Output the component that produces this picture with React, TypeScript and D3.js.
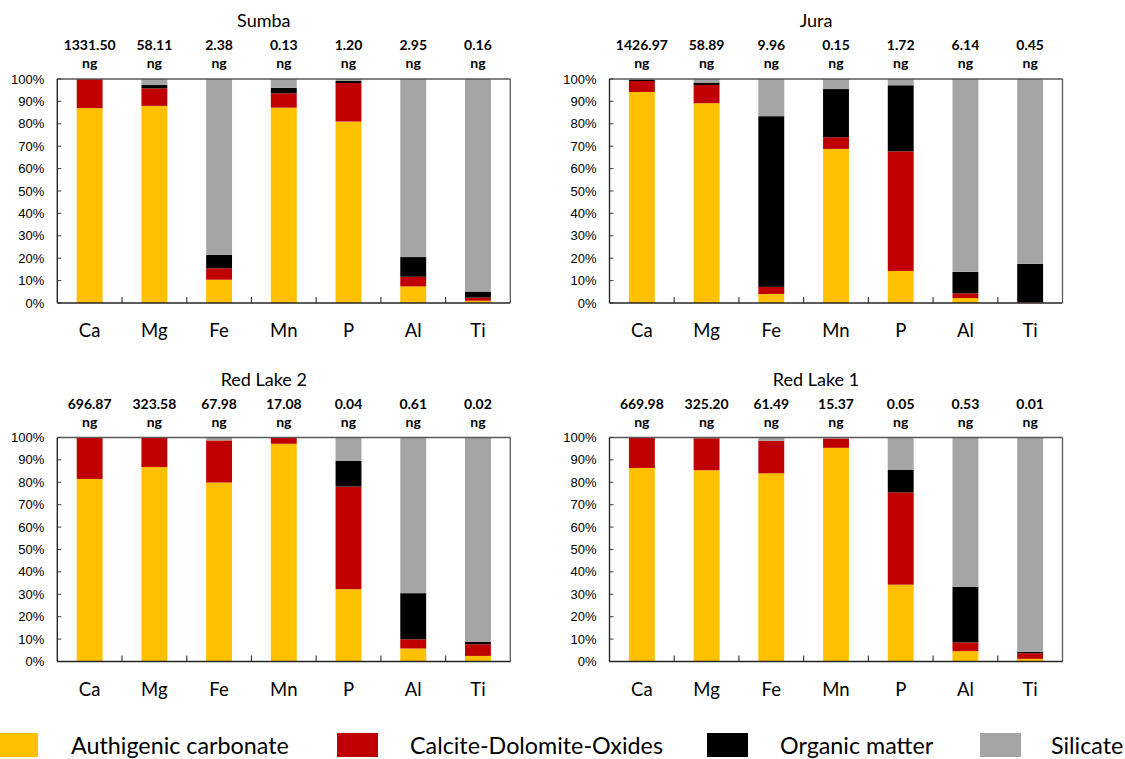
import React from "react";
import * as d3 from "d3";

const elements = ["Ca", "Mg", "Fe", "Mn", "P", "Al", "Ti"];
const fractions = ["Authigenic carbonate", "Calcite-Dolomite-Oxides", "Organic matter", "Silicate"];
const fractionColors = ["#FFC000", "#C00000", "#000000", "#A5A5A5"];
const yTicks = [0, 10, 20, 30, 40, 50, 60, 70, 80, 90, 100];

const sumbaMass = ["1331.50", "58.11", "2.38", "0.13", "1.20", "2.95", "0.16"];
const sumbaAuth = [87, 88, 10.4, 87.2, 81, 7.4, 1.0];
const sumbaCalc = [13, 7.8, 5.1, 6.4, 17.2, 4.3, 1.4];
const sumbaOrg = [0, 1.5, 6.0, 2.4, 0.9, 8.8, 2.7];
const sumbaSil = [0, 2.7, 78.5, 4.0, 0.9, 79.5, 94.9];

const juraMass = ["1426.97", "58.89", "9.96", "0.15", "1.72", "6.14", "0.45"];
const juraAuth = [94.2, 89.2, 4.0, 68.8, 14.3, 2.2, 0.1];
const juraCalc = [4.9, 8.1, 3.2, 5.2, 53.4, 2.1, 0.3];
const juraOrg = [0.6, 1.1, 76.2, 21.5, 29.5, 9.6, 17.1];
const juraSil = [0.3, 1.6, 16.6, 4.5, 2.8, 86.1, 82.5];

const rl2Mass = ["696.87", "323.58", "67.98", "17.08", "0.04", "0.61", "0.02"];
const rl2Auth = [81.5, 86.8, 79.9, 97.2, 32.3, 5.8, 2.5];
const rl2Calc = [18.5, 13.2, 18.8, 2.8, 45.8, 4.1, 5.2];
const rl2Org = [0, 0, 0, 0, 11.5, 20.6, 1.0];
const rl2Sil = [0, 0, 1.3, 0, 10.4, 69.5, 91.3];

const rl1Mass = ["669.98", "325.20", "61.49", "15.37", "0.05", "0.53", "0.01"];
const rl1Auth = [86.4, 85.4, 84.0, 95.4, 34.3, 4.6, 1.2];
const rl1Calc = [13.6, 14.3, 14.5, 4.2, 41.2, 3.9, 2.5];
const rl1Org = [0, 0, 0, 0, 10.0, 24.9, 0.6];
const rl1Sil = [0, 0.3, 1.5, 0.4, 14.5, 66.6, 95.7];

const panels = [
  { name: "Sumba", mass: sumbaMass, series: [sumbaAuth, sumbaCalc, sumbaOrg, sumbaSil], left: 57.3, top: 79 },
  { name: "Jura", mass: juraMass, series: [juraAuth, juraCalc, juraOrg, juraSil], left: 609.5, top: 79 },
  { name: "Red Lake 2", mass: rl2Mass, series: [rl2Auth, rl2Calc, rl2Org, rl2Sil], left: 57.3, top: 437.5 },
  { name: "Red Lake 1", mass: rl1Mass, series: [rl1Auth, rl1Calc, rl1Org, rl1Sil], left: 609.5, top: 437.5 },
];

const PW = 453;
const PH = 224;
const LABEL_FONT = "Lato, 'Open Sans', sans-serif";
const AXIS_FONT = "'Liberation Sans', Arial, sans-serif";

function Panel({ p }: { p: any }) {
  const x = d3.scaleBand<string>().domain(elements).range([0, PW]).paddingInner(0.6).paddingOuter(0.3);
  const band = PW / elements.length;
  const y = d3.scaleLinear().domain([0, 100]).range([PH, 0]);
  const rows = elements.map((el, i) => {
    const r: any = { el };
    fractions.forEach((f, k) => (r[f] = p.series[k][i]));
    return r;
  });
  const stacked = d3.stack<any>().keys(fractions)(rows);
  return (
    <g transform={`translate(${p.left},${p.top})`}>
      <text x={PW / 2 - 20} y={-52} textAnchor="middle" fontFamily={LABEL_FONT} fontSize={18} fill="#000">
        {p.name}
      </text>
      {elements.map((el, i) => (
        <g key={el}>
          <text x={(x(el) as number) + x.bandwidth() / 2} y={-29} textAnchor="middle" fontFamily={LABEL_FONT} fontWeight={700} fontSize={14}>
            {p.mass[i]}
          </text>
          <text x={(x(el) as number) + x.bandwidth() / 2} y={-11} textAnchor="middle" fontFamily={LABEL_FONT} fontWeight={700} fontSize={14}>
            ng
          </text>
          <text x={(x(el) as number) + x.bandwidth() / 2} y={PH + 34} textAnchor="middle" fontFamily={LABEL_FONT} fontSize={18.5}>
            {el}
          </text>
        </g>
      ))}
      {stacked.map((s, k) => (
        <g key={s.key} fill={fractionColors[k]}>
          {s.map((d: any) => (
            <rect
              key={d.data.el}
              x={x(d.data.el)}
              width={x.bandwidth()}
              y={y(d[1])}
              height={Math.max(0, y(d[0]) - y(d[1]))}
            />
          ))}
        </g>
      ))}
      <line x1={0} x2={PW} y1={0} y2={0} stroke="#595959" strokeWidth={1.3} />
      <line x1={PW} x2={PW} y1={0} y2={PH} stroke="#595959" strokeWidth={1.3} />
      {yTicks.map((t) => (
        <g key={t}>
          <line x1={0} x2={4} y1={y(t)} y2={y(t)} stroke="#404040" strokeWidth={1} />
          <text x={-13} y={y(t)} dy="0.35em" textAnchor="end" fontFamily={AXIS_FONT} fontSize={13} fill="#000">
            {t}%
          </text>
        </g>
      ))}
      {elements.slice(1).map((el, i) => (
        <line key={el} x1={band * (i + 1)} x2={band * (i + 1)} y1={PH - 6} y2={PH} stroke="#404040" strokeWidth={1.2} />
      ))}
      <line x1={0} x2={0} y1={0} y2={PH} stroke="#262626" strokeWidth={1.4} />
      <line x1={0} x2={PW} y1={PH} y2={PH} stroke="#262626" strokeWidth={1.6} />
    </g>
  );
}

const legendX = [-3, 337, 707, 980];
const legendTextX = [71, 410, 780, 1051];

export default function App() {
  return (
    <svg
      width={1125}
      height={759}
      viewBox="0 0 1125 759"
      style={{ position: "absolute", left: 0, top: 0, display: "block", background: "#fff" }}
    >
      <rect x={0} y={0} width={1125} height={759} fill="#fff" />
      {panels.map((p) => (
        <Panel key={p.name} p={p} />
      ))}
      {fractions.map((f, k) => (
        <g key={f}>
          <rect x={legendX[k]} y={733} width={41} height={24} fill={fractionColors[k]} />
          <text x={legendTextX[k]} y={754} fontFamily={LABEL_FONT} fontSize={23.3} fill="#000">
            {f}
          </text>
        </g>
      ))}
    </svg>
  );
}
